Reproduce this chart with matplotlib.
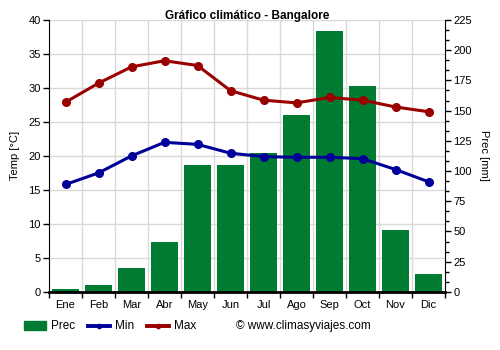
import numpy as np
import matplotlib
matplotlib.use("Agg")
import matplotlib.pyplot as plt
from matplotlib.lines import Line2D
from matplotlib.patches import Rectangle

plt.rcParams['font.family'] = ['Liberation Sans', 'DejaVu Sans']
plt.rcParams['font.size'] = 8

months = ["Ene", "Feb", "Mar", "Abr", "May", "Jun", "Jul", "Ago", "Sep", "Oct", "Nov", "Dic"]
prec = [2, 6, 20, 41, 105, 105, 115, 146, 216, 170, 51, 15]
t_min = [15.8, 17.5, 20.0, 22.0, 21.7, 20.4, 19.9, 19.8, 19.8, 19.6, 18.0, 16.2]
t_max = [27.9, 30.7, 33.1, 34.0, 33.3, 29.6, 28.2, 27.8, 28.6, 28.2, 27.2, 26.5]

green = "#007c32"
blue = "#000099"
red = "#990000"

W, H = 500, 350
fig = plt.figure(figsize=(5, 3.5), dpi=100)
ax = fig.add_axes([0.098, 0.166, 0.792, 0.777])
ax2 = ax.twinx()

x = np.arange(len(months))

# precipitation bars on the right axis, drawn behind the temperature lines
ax2.bar(x, prec, width=0.82, color=green, zorder=2)
ax2.set_ylim(0, 225)
ax2.set_yticks(np.arange(0, 226, 25))
ax2.set_yticks(np.arange(0, 226, 25 / 3), minor=True)
ax2.set_ylabel("Prec [mm]", rotation=270, labelpad=12)

ax.set_zorder(ax2.get_zorder() + 1)
ax.patch.set_visible(False)
ax2.patch.set_facecolor("white")

ax.plot(x, t_max, color=red, lw=2.2, marker="o", ms=5.5, zorder=5)
ax.plot(x, t_min, color=blue, lw=2.2, marker="o", ms=5.5, zorder=5)
ax.set_ylim(0, 40)
ax.set_yticks(np.arange(0, 41, 5))
ax.set_xlim(-0.5, 11.5)
ax.set_ylabel("Temp [°C]", labelpad=6)

# grid: month boundaries and every 5 degrees
for b in np.arange(0.5, 11.5, 1):
    ax2.axvline(b, color="#d9d9d9", lw=1, zorder=0)
for v in np.arange(5, 41, 5):
    ax2.axhline(v * 225 / 40, color="#d9d9d9", lw=1, zorder=0)

ax.set_xticks(x)
ax.set_xticklabels(months)
ax.tick_params(axis="x", length=0, pad=6)
ax.set_xticks(np.arange(-0.5, 12, 1), minor=True)
ax.tick_params(axis="x", which="minor", length=4, width=1)
ax.tick_params(axis="y", length=4, width=1, pad=2)
ax2.tick_params(axis="y", length=4, width=1, pad=2)
ax2.tick_params(axis="y", which="minor", length=3, width=1)

for a in (ax, ax2):
    a.spines["top"].set_visible(False)
ax.spines["bottom"].set_linewidth(2)
ax2.spines["bottom"].set_visible(False)
ax.spines["right"].set_visible(False)
ax2.spines["left"].set_visible(False)

fig.text(0.494, 0.955, "Gráfico climático - Bangalore", ha="center", va="center",
         fontweight="bold", fontsize=8.5)

# legend row, laid out in pixel positions along the bottom
ly = 1 - 326 / H
fig.patches.append(Rectangle((24 / W, 1 - 330 / H), 22 / W, 9 / H, color=green,
                             transform=fig.transFigure, figure=fig))
fig.text(51 / W, ly, "Prec", ha="left", va="center", fontsize=8.5)
for x0, col, name in [(88, blue, "Min"), (147, red, "Max")]:
    fig.lines.append(Line2D([x0 / W, (x0 + 22) / W], [ly, ly], color=col, lw=2.8,
                            transform=fig.transFigure, figure=fig))
    fig.lines.append(Line2D([(x0 + 11) / W], [ly], color=col, marker="o", ms=3,
                            transform=fig.transFigure, figure=fig))
    fig.text((x0 + 27) / W, ly, name, ha="left", va="center", fontsize=8.5)
fig.text(236 / W, ly, "© www.climasyviajes.com", ha="left", va="center", fontsize=8.5)

fig.savefig("out.png", dpi=100)
